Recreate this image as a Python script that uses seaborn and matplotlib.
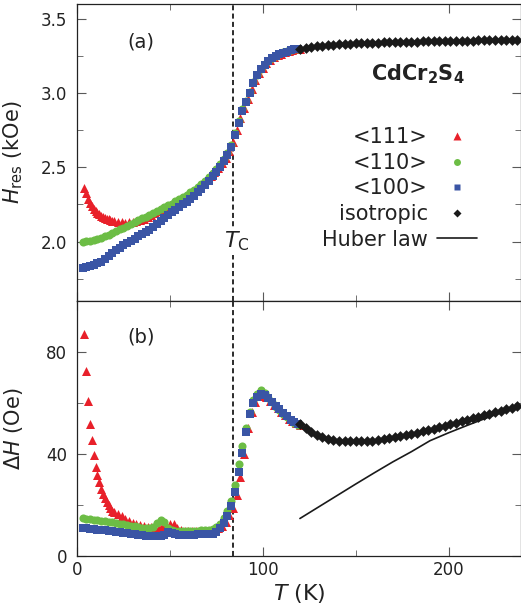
import matplotlib
matplotlib.use('Agg')
import matplotlib.pyplot as plt
from matplotlib.lines import Line2D
from matplotlib.ticker import MultipleLocator
import seaborn as sns

# 温度 (K)
t_grid = [3, 5, 7, 9, 11, 13, 15, 17, 19, 21, 23, 25, 27, 29, 31, 33, 35, 37, 39,
          41, 43, 45, 47, 49, 51, 53, 55, 57, 59, 61, 63, 65, 67, 69, 71, 73, 75,
          77, 79, 81, 83, 85, 87, 89, 91, 93, 95, 97, 99, 101, 103, 105, 107, 109,
          111, 113, 115, 117, 119]
t_red = [4, 5, 6, 7, 8, 9, 10, 11, 12, 13, 14, 15, 16, 17, 18, 19, 20, 22, 24, 26,
         28, 30, 32, 34, 36, 38, 40, 42, 44, 46, 48, 50, 52, 54, 56, 58, 60, 62, 64,
         66, 68, 70, 72, 74, 76, 78, 80, 82, 84, 86, 88, 90, 92, 94, 96, 98, 100,
         102, 104, 106, 108, 110, 112, 114, 116, 118, 120]
t_iso = [120, 123, 126, 129, 132, 135, 138, 141, 144, 147, 150, 153, 156, 159, 162,
         165, 168, 171, 174, 177, 180, 183, 186, 189, 192, 195, 198, 201, 204, 207,
         210, 213, 216, 219, 222, 225, 228, 231, 234, 237]
t_huber = [120, 130, 140, 150, 160, 170, 180, 190, 200, 210, 220, 230, 240]

# (a) 共鳴磁場 H_res (kOe)
hres_111 = [2.36, 2.33, 2.29, 2.26, 2.24, 2.222, 2.207, 2.195, 2.184, 2.175, 2.167,
            2.16, 2.154, 2.149, 2.144, 2.14, 2.137, 2.132, 2.129, 2.128, 2.129, 2.132,
            2.136, 2.143, 2.152, 2.163, 2.176, 2.19, 2.206, 2.221, 2.234, 2.245,
            2.257, 2.271, 2.285, 2.30, 2.316, 2.334, 2.352, 2.372, 2.392, 2.415,
            2.44, 2.468, 2.498, 2.53, 2.565, 2.61, 2.67, 2.75, 2.83, 2.90, 2.96,
            3.03, 3.09, 3.137, 3.172, 3.20, 3.223, 3.242, 3.255, 3.266, 3.275,
            3.283, 3.29, 3.295, 3.299]
hres_110 = [1.998, 2.002, 2.007, 2.012, 2.018, 2.027, 2.037, 2.047, 2.058, 2.07,
            2.082, 2.094, 2.106, 2.118, 2.13, 2.143, 2.156, 2.168, 2.18, 2.193,
            2.206, 2.219, 2.231, 2.243, 2.256, 2.27, 2.285, 2.30, 2.316, 2.333,
            2.35, 2.37, 2.39, 2.41, 2.435, 2.46, 2.49, 2.52, 2.555, 2.595, 2.65,
            2.73, 2.81, 2.89, 2.95, 3.01, 3.075, 3.125, 3.165, 3.195, 3.218, 3.237,
            3.252, 3.264, 3.274, 3.282, 3.289, 3.295, 3.299]
hres_100 = [1.824, 1.83, 1.838, 1.845, 1.853, 1.862, 1.88, 1.905, 1.925, 1.946,
            1.96, 1.975, 1.99, 2.005, 2.02, 2.035, 2.05, 2.065, 2.08, 2.10, 2.12,
            2.14, 2.16, 2.18, 2.197, 2.213, 2.23, 2.25, 2.268, 2.288, 2.31, 2.332,
            2.355, 2.38, 2.41, 2.44, 2.47, 2.50, 2.54, 2.58, 2.64, 2.72, 2.80,
            2.88, 2.94, 3.00, 3.07, 3.12, 3.16, 3.19, 3.215, 3.235, 3.25, 3.262,
            3.272, 3.28, 3.288, 3.294, 3.298]
hres_iso = [3.300, 3.306, 3.311, 3.315, 3.319, 3.322, 3.325, 3.328, 3.330, 3.332,
            3.334, 3.336, 3.337, 3.339, 3.340, 3.341, 3.342, 3.343, 3.344, 3.345,
            3.346, 3.347, 3.348, 3.349, 3.350, 3.350, 3.351, 3.352, 3.352, 3.353,
            3.354, 3.354, 3.355, 3.355, 3.356, 3.356, 3.357, 3.357, 3.358, 3.358]

# (b) 線幅 ΔH (Oe)
dh_111 = [87.1, 72.7, 60.9, 51.7, 45.3, 39.7, 34.7, 31.7, 29.0, 26.2, 24.4, 22.8,
          21.3, 19.8, 18.7, 17.8, 17.2, 16.6, 15.5, 14.5, 13.8, 13.0, 12.6, 12.2,
          11.8, 11.5, 11.2, 11.0, 10.9, 11.3, 11.8, 12.6, 12.4, 11.0, 10.2, 9.9,
          9.7, 9.6, 9.6, 9.6, 9.6, 9.6, 9.7, 10.0, 10.8, 11.8, 13.5, 16.0, 19.0,
          24.0, 31.0, 40.0, 50.0, 56.5, 60.5, 62.8, 63.3, 62.2, 60.8, 59.4, 58.0,
          56.5, 55.1, 53.9, 52.9, 52.0, 51.5]
dh_110 = [14.8, 14.6, 14.4, 14.2, 14.0, 13.8, 13.6, 13.4, 13.2, 13.0, 12.7, 12.4,
          12.1, 11.8, 11.6, 11.3, 11.1, 10.9, 10.8, 11.2, 13.0, 14.0, 13.2, 11.0,
          10.2, 9.9, 9.8, 9.7, 9.7, 9.8, 9.8, 9.9, 10.0, 10.1, 10.3, 10.6, 11.2,
          12.5, 15.0, 17.5, 21.5, 28.0, 36.0, 43.0, 50.0, 56.5, 61.0, 63.5, 65.0,
          64.0, 62.0, 60.2, 58.6, 57.2, 55.8, 54.5, 53.3, 52.3, 51.5]
dh_100 = [10.9, 10.8, 10.6, 10.5, 10.3, 10.2, 10.0, 9.9, 9.7, 9.5, 9.3, 9.1, 8.9,
          8.7, 8.5, 8.3, 8.2, 8.0, 7.9, 7.8, 7.7, 7.7, 8.4, 9.4, 9.2, 8.6, 8.3,
          8.2, 8.2, 8.3, 8.4, 8.5, 8.5, 8.5, 8.6, 8.8, 9.5, 10.8, 13.0, 15.5,
          19.5, 25.0, 33.0, 40.5, 48.5, 55.5, 60.0, 62.5, 63.5, 63.3, 61.8, 60.4,
          59.0, 57.5, 56.0, 54.7, 53.5, 52.5, 51.8]
dh_iso = [51.9, 50.2, 48.7, 47.4, 46.5, 45.9, 45.5, 45.2, 45.0, 44.9, 44.9, 44.9,
          45.0, 45.2, 45.5, 45.8, 46.2, 46.6, 47.0, 47.5, 48.0, 48.4, 48.9, 49.4,
          49.9, 50.4, 51.0, 51.6, 52.2, 52.8, 53.4, 54.0, 54.5, 55.1, 55.8, 56.4,
          57.0, 57.6, 58.2, 58.8]
dh_huber = [14.7, 19.2, 23.7, 28.2, 32.6, 36.9, 40.9, 45.2, 48.3, 51.2, 54.0, 56.7, 59.2]

T_C = 84
labels = ['<111>', '<110>', '<100>', 'isotropic', 'Huber law']
c_red, c_green, c_blue, c_black = '#e8202a', '#6cbd45', '#3a55a5', '#1a1a1a'

sns.set_style('ticks')
plt.rcParams['font.family'] = ['DejaVu Sans']
plt.rcParams['mathtext.fontset'] = 'dejavusans'

fig = plt.figure(figsize=(5.21, 6.14), dpi=100)
ax1 = fig.add_axes([0.1478, 0.5098, 0.8522, 0.4837])
ax2 = fig.add_axes([0.1478, 0.0945, 0.8522, 0.4153])

def draw(ax, y111, y110, y100, yiso):
    sns.scatterplot(x=t_red, y=y111, ax=ax, marker='^', s=42, color=c_red, linewidth=0, zorder=3)
    sns.scatterplot(x=t_grid, y=y110, ax=ax, marker='o', s=34, color=c_green, linewidth=0, zorder=4)
    sns.scatterplot(x=t_grid, y=y100, ax=ax, marker='s', s=30, color=c_blue, linewidth=0, zorder=5)
    sns.scatterplot(x=t_iso, y=yiso, ax=ax, marker='D', s=30, color=c_black, linewidth=0, zorder=6)
    ax.axvline(T_C, color='#1a1a1a', lw=1.3, ls=(0, (2.8, 1.8)), zorder=2)

draw(ax1, hres_111, hres_110, hres_100, hres_iso)
draw(ax2, dh_111, dh_110, dh_100, dh_iso)
sns.lineplot(x=t_huber, y=dh_huber, ax=ax2, color=c_black, lw=1.2, zorder=7)

ax1.set_ylim(1.6, 3.6)
ax1.yaxis.set_major_locator(MultipleLocator(0.5))
ax1.yaxis.set_minor_locator(MultipleLocator(0.25))
ax1.set_ylabel(r'$H_{\mathrm{res}}$ (kOe)', fontsize=15, color='#222222')
ax1.set_xlabel('')

ax2.set_ylim(0, 100)
ax2.yaxis.set_major_locator(MultipleLocator(40))
ax2.yaxis.set_minor_locator(MultipleLocator(20))
ax2.set_ylabel(r'$\mathit{\Delta H}$ (Oe)', fontsize=15, color='#222222')
ax2.set_xlabel(r'$T$ (K)', fontsize=16, color='#222222', labelpad=2)

for ax in (ax1, ax2):
    ax.set_xlim(0, 239)
    ax.xaxis.set_major_locator(MultipleLocator(100))
    ax.xaxis.set_minor_locator(MultipleLocator(50))
    ax.tick_params(axis='both', which='both', direction='in', top=True, bottom=True,
                   left=True, right=True, colors='0.35', labelcolor='#222222', labelsize=12)
    ax.tick_params(axis='both', which='major', length=6.5)
    ax.tick_params(axis='both', which='minor', length=4.5)
    ax.tick_params(axis='y', which='major', pad=7)
    for sp in ax.spines.values():
        sp.set_color('#222222')
        sp.set_linewidth(0.9)
    ax.yaxis.set_label_coords(-0.118, 0.5)

ax1.tick_params(axis='x', labelbottom=False)

ax1.text(0.144, 0.872, '(a)', transform=ax1.transAxes, fontsize=14, ha='center', va='center', color='#222222')
ax2.text(0.144, 0.859, '(b)', transform=ax2.transAxes, fontsize=14, ha='center', va='center', color='#222222')
ax1.text(0.768, 0.762, r'$\mathbf{CdCr_2S_4}$', transform=ax1.transAxes, fontsize=15,
         ha='center', va='center', color='#222222')
ax1.text(86, 2.0, r'$T_{\mathrm{C}}$', fontsize=16, ha='center', va='center', color='#222222',
         bbox=dict(facecolor='white', edgecolor='none', pad=1), zorder=8)

handles = [
    Line2D([], [], ls='none', marker='^', ms=6, color=c_red, mec='none'),
    Line2D([], [], ls='none', marker='o', ms=5, color=c_green, mec='none'),
    Line2D([], [], ls='none', marker='s', ms=4.8, color=c_blue, mec='none'),
    Line2D([], [], ls='none', marker='D', ms=4.5, color=c_black, mec='none'),
    Line2D([], [], color=c_black, lw=1.2),
]
leg = ax1.legend(handles, labels, loc='upper right', bbox_to_anchor=(0.90, 0.585), markerfirst=False,
                 frameon=False, fontsize=15, handlelength=1.9, handletextpad=0.45,
                 labelspacing=0.27, borderaxespad=0, borderpad=0)
for txt in leg.get_texts():
    txt.set_color('#222222')

fig.savefig('out.png', dpi=100)
